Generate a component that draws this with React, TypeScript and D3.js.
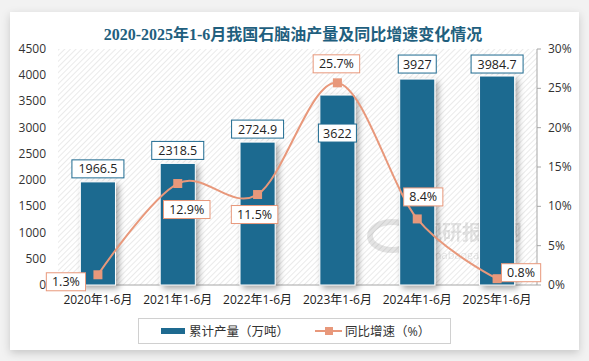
import * as d3 from 'd3'

const categories = ['2020年1-6月', '2021年1-6月', '2022年1-6月', '2023年1-6月', '2024年1-6月', '2025年1-6月']
const output = [1966.5, 2318.5, 2724.9, 3622, 3927, 3984.7]
const growth = [1.3, 12.9, 11.5, 25.7, 8.4, 0.8]
const leftTicks = [0, 500, 1000, 1500, 2000, 2500, 3000, 3500, 4000, 4500]
const rightTicks = [0, 5, 10, 15, 20, 25, 30]

const W = 589
const H = 361
const M = { top: 49, right: 52, bottom: 76, left: 58 }
const BLUE = '#1e6a90'
const ORANGE = '#e8987b'
const FONT = "'Open Sans', 'Noto Sans CJK SC', sans-serif"

// label offsets relative to mark (bar top / marker), tuned by eye
const barLabelDy = [-13, -13, -13, 38, -15, -12]
const lineLabelDx = [-32, 9, -3, -1, 6, 24]
const lineLabelDy = [7, 26, 20, -19, -22, -6]

export default function App() {
  const x = d3.scaleBand<string>().domain(categories).range([M.left, W - M.right]).paddingInner(0.56).paddingOuter(0.28)
  const y = d3.scaleLinear().domain([0, 4500]).range([H - M.bottom, M.top])
  const y2 = d3.scaleLinear().domain([0, 30]).range([H - M.bottom, M.top])
  const cx = (c: string) => (x(c) ?? 0) + x.bandwidth() / 2

  const line = d3
    .line<number>()
    .x((_, i) => cx(categories[i]))
    .y((d) => y2(d))
    .curve(d3.curveCardinal.tension(0))

  const bottom = H - M.bottom
  const right = W - M.right

  return (
    <svg width={W} height={H} style={{ position: 'absolute', left: 0, top: 0 }} fontFamily={FONT}>
      <defs>
        <pattern id="hatch" width="4" height="4" patternUnits="userSpaceOnUse" patternTransform="rotate(45)">
          <line x1="0" y1="0" x2="0" y2="4" stroke="#d6d6d6" strokeWidth="1" />
        </pattern>
        <filter id="card" x="-5%" y="-5%" width="110%" height="115%">
          <feDropShadow dx="0" dy="3" stdDeviation="4" floodColor="#000" floodOpacity="0.18" />
        </filter>
        <filter id="barShadow" x="-30%" y="-10%" width="170%" height="130%">
          <feDropShadow dx="3" dy="3" stdDeviation="3" floodColor="#000" floodOpacity="0.35" />
        </filter>
      </defs>
      <rect width={W} height={H} fill="#f2f2f2" />
      <rect x={10} y={12} width={569} height={338} fill="#fff" filter="url(#card)" />

      <text x={293} y={40} textAnchor="middle" fontSize={16} fontWeight="bold" fill="#1f5f7e"
        fontFamily="'Liberation Serif', 'Noto Sans CJK SC', serif">
        2020-2025年1-6月我国石脑油产量及同比增速变化情况
      </text>

      <rect x={M.left} y={M.top} width={right - M.left} height={bottom - M.top} fill="url(#hatch)" />

      {/* watermark */}
      <g opacity={0.13} fill="#333">
        <ellipse cx={392} cy={236} rx={22} ry={14} fill="none" stroke="#333" strokeWidth={6} />
        <text x={422} y={240} fontSize={20} fontWeight="bold" fontFamily="'Noto Sans CJK SC', sans-serif">观研报告网</text>
        <text x={420} y={259} fontSize={11}>chinabaogao.com</text>
      </g>

      {/* axes */}
      <line x1={M.left} x2={right} y1={bottom} y2={bottom} stroke="#a6a6a6" />
      <line x1={right} x2={right} y1={M.top} y2={bottom} stroke="#a6a6a6" />
      {leftTicks.map((t) => (
        <text key={t} x={46} y={y(t) + 4} textAnchor="end" fontSize={12} fill="#333">{t}</text>
      ))}
      {rightTicks.map((t) => (
        <g key={t}>
          <line x1={right} x2={right + 4} y1={y2(t)} y2={y2(t)} stroke="#a6a6a6" />
          <text x={548} y={y2(t) + 4} fontSize={12} fill="#333">{t}%</text>
        </g>
      ))}
      {categories.map((c) => (
        <text key={c} x={cx(c)} y={304} textAnchor="middle" fontSize={12} fill="#222">{c}</text>
      ))}

      {/* bars */}
      {output.map((v, i) => (
        <rect key={i} x={x(categories[i])} y={y(v)} width={x.bandwidth()} height={bottom - y(v)}
          fill={BLUE} stroke="#fff" strokeWidth={1} filter="url(#barShadow)" />
      ))}

      {/* line */}
      <path d={line(growth) ?? ''} fill="none" stroke={ORANGE} strokeWidth={2} />
      {growth.map((g, i) => (
        <rect key={i} x={cx(categories[i]) - 4.5} y={y2(g) - 4.5} width={9} height={9} fill={ORANGE} />
      ))}

      {/* bar labels */}
      {output.map((v, i) => {
        const s = String(v)
        const w = s.length * 7 + 10
        const px = cx(categories[i])
        const py = y(v) + barLabelDy[i]
        return (
          <g key={i}>
            <rect x={px - w / 2} y={py - 9} width={w} height={18} fill="#fff" stroke={BLUE} />
            <text x={px} y={py + 4.5} textAnchor="middle" fontSize={12.5} fill="#222">{s}</text>
          </g>
        )
      })}

      {/* line labels */}
      {growth.map((g, i) => {
        const s = g + '%'
        const w = s.length * 7.3 + 10
        const px = cx(categories[i]) + lineLabelDx[i]
        const py = y2(g) + lineLabelDy[i]
        return (
          <g key={i}>
            <rect x={px - w / 2} y={py - 9} width={w} height={18} fill="#fff" stroke={ORANGE} />
            <text x={px} y={py + 4.5} textAnchor="middle" fontSize={12.5} fill="#222">{s}</text>
          </g>
        )
      })}

      {/* legend */}
      <rect x={138.5} y={318.5} width={312} height={25} fill="#fff" stroke="#d0d0d0" />
      <rect x={161} y={328} width={24} height={6} fill={BLUE} />
      <text x={189} y={335.5} fontSize={12.5} fill="#333">累计产量（万吨）</text>
      <line x1={315} x2={342} y1={331} y2={331} stroke={ORANGE} strokeWidth={2} />
      <rect x={325} y={327} width={8} height={8} fill={ORANGE} />
      <text x={345} y={335.5} fontSize={12.5} fill="#333">同比增速（%）</text>
    </svg>
  )
}
